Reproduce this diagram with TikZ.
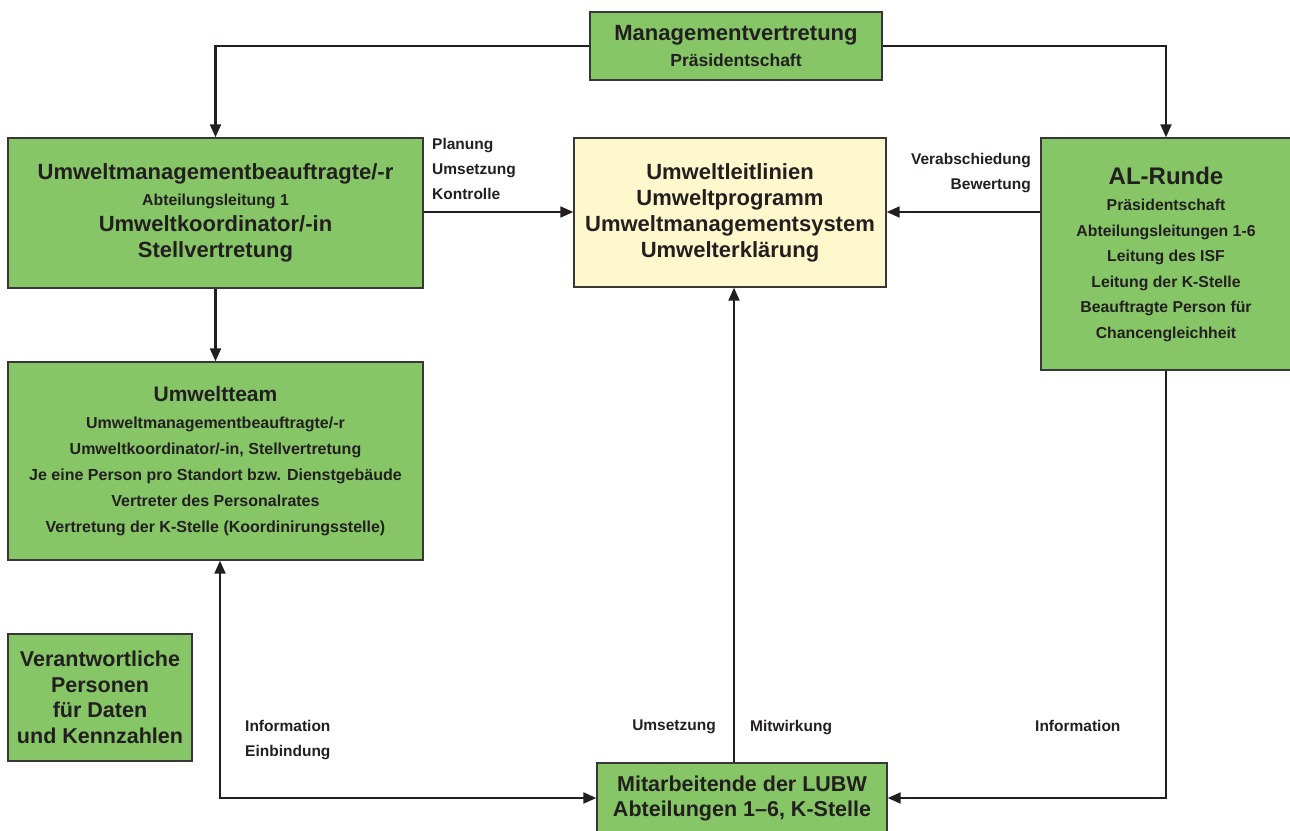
\documentclass[tikz,border=0pt]{standalone}
\usepackage{fontspec}
\setmainfont{Liberation Sans}
\usetikzlibrary{arrows.meta}
\definecolor{boxgreen}{RGB}{134,198,102}
\definecolor{boxyellow}{RGB}{255,248,204}
\definecolor{edge}{RGB}{55,55,55}
\definecolor{ink}{RGB}{35,31,32}
\tikzset{
  box/.style={draw=edge, line width=1.4pt, fill=boxgreen, align=center, inner sep=0pt, text=ink,
              font=\bfseries\fontsize{22}{26}\selectfont},
  conn/.style={draw=ink, line width=2.2pt, -{Triangle[length=13pt,width=11pt]}},
  conn2/.style={draw=ink, line width=2.2pt, {Triangle[length=13pt,width=11pt]}-{Triangle[length=13pt,width=11pt]}},
  lbl/.style={font=\bfseries\fontsize{15.5}{25}\selectfont, text=ink, inner sep=0pt, align=left},
}
\newcommand{\smallline}[1]{{\fontsize{15.8}{26}\selectfont #1}}
\begin{document}
\begin{tikzpicture}[x=1pt,y=-1pt]
\useasboundingbox (0,0) rectangle (1290,830);

\node[box, minimum width=292pt, minimum height=68pt] (mgmt) at (736,46)
  {Managementvertretung\\[0pt]{\fontsize{17.5}{26}\selectfont Präsidentschaft}};

\node[box, minimum width=415pt, minimum height=150pt] (umb) at (215.5,213)
  {Umweltmanagementbeauftragte/-r\\\smallline{Abteilungsleitung 1}\\Umweltkoordinator/-in\\Stellvertretung};

\node[box, fill=boxyellow, minimum width=312pt, minimum height=149pt] (prog) at (730,212.5)
  {Umweltleitlinien\\Umweltprogramm\\Umweltmanagementsystem\\Umwelterklärung};

\node[box, minimum width=250pt, minimum height=232pt, font=\bfseries\fontsize{15.8}{25.5}\selectfont] (al) at (1166,254)
  {\fontsize{24}{25.5}\selectfont AL-Runde\\[1pt]Präsidentschaft\\Abteilungsleitungen 1-6\\Leitung des ISF\\Leitung der K-Stelle\\Beauftragte Person für\\Chancengleichheit};

\node[box, minimum width=415pt, minimum height=198pt, font=\bfseries\fontsize{16}{26}\selectfont] (team) at (215.5,461)
  {{\fontsize{21}{26}\selectfont Umweltteam}\\[1pt]Umweltmanagementbeauftragte/-r\\Umweltkoordinator/-in, Stellvertretung\\Je eine Person pro Standort bzw. Dienstgebäude\\Vertreter des Personalrates\\Vertretung der K-Stelle (Koordinirungsstelle)};

\node[box, minimum width=184pt, minimum height=127pt, font=\bfseries\fontsize{21.5}{25.5}\selectfont] (resp) at (100,697.5)
  {Verantwortliche\\Personen\\für Daten\\und Kennzahlen};

\node[box, minimum width=290pt, minimum height=70pt, font=\bfseries\fontsize{21.5}{25}\selectfont] (staff) at (742,798)
  {Mitarbeitende der LUBW\\Abteilungen 1–6, K-Stelle};

% connectors
\draw[conn] (mgmt.west) -| (umb.north);
\draw[conn] (mgmt.east) -| (al.north);
\draw[conn] (umb.east |- 0,212) -- (prog.west |- 0,212);
\draw[conn] (al.west |- 0,212) -- (prog.east |- 0,212);
\draw[conn] (umb.south) -- (team.north);
\draw[conn] (staff.north -| 734,0) -- (prog.south -| 734,0);
\coordinate (c1) at (220,798);
\draw[conn2] (team.south -| c1) -- (c1) -- (staff.west);
\draw[conn] (al.south) |- (staff.east);

% labels
\node[lbl, anchor=north west] (l1) at (432,138) {Planung\\Umsetzung\\Kontrolle};
\node[lbl, anchor=north east, align=right] (l2) at (1031,153) {Verabschiedung\\Bewertung};
\node[lbl, anchor=north west] (l3) at (245,720) {Information\\Einbindung};
\node[lbl, anchor=north east] (l4) at (716,720) {Umsetzung};
\node[lbl, anchor=north west] (l5) at (750,720) {Mitwirkung};
\node[lbl, anchor=north west] (l6) at (1035,720) {Information};
\end{tikzpicture}
\end{document}
